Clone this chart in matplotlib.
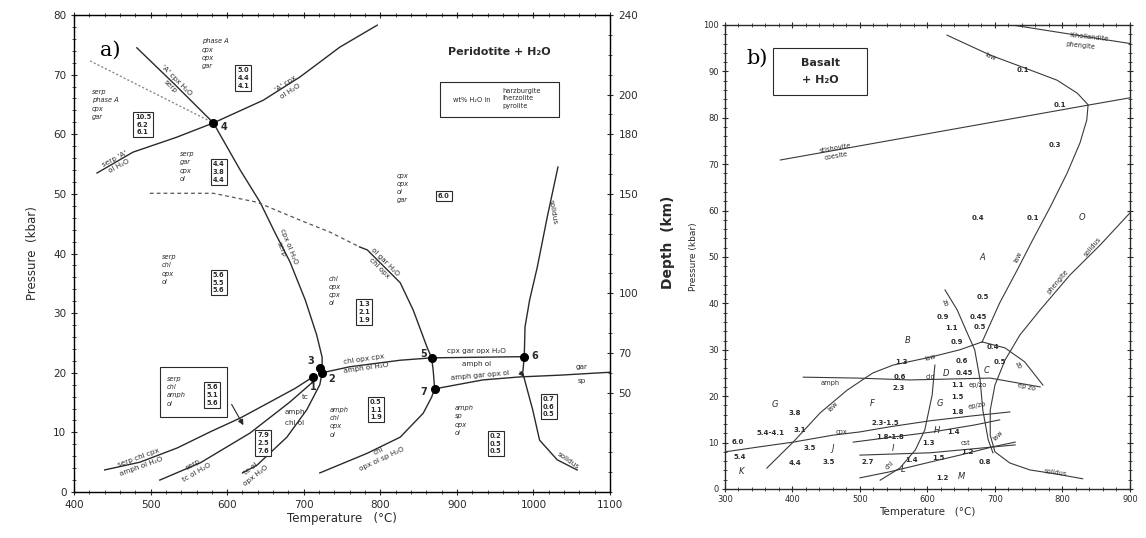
import matplotlib
matplotlib.use('Agg')
import matplotlib.pyplot as plt
from matplotlib.ticker import MultipleLocator
from matplotlib.patches import Rectangle

plt.rcParams['font.family'] = ['DejaVu Sans']
INK = '#2a2a2a'

# ---------------- a) peridotite + H2O  (T in C, P in kbar) ----------------
ant_T = [482, 532, 582, 617, 643, 662, 682, 702, 717, 724, 724, 721, 704, 678, 639, 620]
ant_P = [74.5, 68.3, 61.9, 54.0, 48.6, 43.6, 38.6, 32.2, 26.3, 22.6, 20.0, 18.0, 13.8, 9.2, 4.5, 3.2]
phA_T = [430, 477, 534, 582, 647, 695, 747, 796]
phA_P = [53.5, 57.0, 59.5, 61.9, 65.7, 69.6, 74.6, 78.3]
dot_T = [421, 582]
dot_P = [72.3, 61.9]
dash_T = [499, 582, 639, 695, 734, 773]
dash_P = [50.1, 50.1, 48.6, 45.6, 43.6, 41.1]
chl_T = [773, 783, 826, 843, 861, 867, 869, 871, 867, 856, 826, 783, 721]
chl_P = [41.1, 40.6, 35.1, 30.5, 24.3, 22.5, 20.5, 17.3, 15.9, 13.2, 9.2, 6.5, 3.2]
sol_T = [1032, 1018, 1005, 995, 989, 988, 986, 991, 999, 1008, 1031, 1057]
sol_P = [54.5, 46.1, 37.7, 32.2, 27.7, 22.6, 20.0, 17.6, 13.8, 8.7, 5.4, 3.7]
c1_T = [440, 486, 535, 578, 617, 656, 689, 712]
c1_P = [3.7, 5.0, 7.4, 10.1, 12.4, 15.1, 17.4, 19.3]
c2_T = [512, 565, 630, 682, 715]
c2_P = [2.0, 4.9, 9.9, 15.1, 18.8]
l25_T = [724, 760, 826, 867]
l25_P = [20.0, 21.0, 22.1, 22.5]
l56_T = [867, 988]
l56_P = [22.5, 22.7]
l7_T = [871, 934, 982, 1035, 1102]
l7_P = [17.3, 18.8, 19.3, 19.6, 20.1]
pt_T = [712, 724, 721, 582, 867, 988, 871]
pt_P = [19.3, 20.0, 20.8, 61.9, 22.5, 22.7, 17.3]
pt_names = ['1', '2', '3', '4', '5', '6', '7']
pt_lab_T = [712, 736, 709, 596, 857, 1002, 857]
pt_lab_P = [17.6, 19.0, 21.9, 61.3, 23.2, 22.8, 16.8]
depth_ticks = [50, 70, 100, 150, 180, 200, 240]

# wt% H2O boxes (harzburgite / lherzolite / pyrolite)
box_vals = ['5.0\n4.4\n4.1', '10.5\n6.2\n6.1', '4.4\n3.8\n4.4', '6.0', '5.6\n5.5\n5.6',
            '1.3\n2.1\n1.9', '5.6\n5.1\n5.6', '7.9\n2.5\n7.6', '0.5\n1.1\n1.9',
            '0.2\n0.5\n0.5', '0.7\n0.6\n0.5']
box_T = [621, 490, 589, 883, 589, 779, 580, 647, 794, 951, 1020]
box_P = [69.4, 61.6, 53.7, 49.6, 35.1, 30.2, 16.3, 8.2, 13.8, 8.1, 14.3]

# assemblages
asm_txt = ['phase A\ncpx\nopx\ngar', 'serp\nphase A\ncpx\ngar', 'serp\ngar\ncpx\nol',
           'cpx\nopx\nol\ngar', 'serp\nchl\nopx\nol', 'chl\nopx\ncpx\nol',
           'amph\nchl\nopx\nol', 'amph\nsp\nopx\nol', 'serp\nchl\namph\nol']
asm_T = [567, 423, 538, 822, 515, 732, 734, 897, 521]
asm_P = [73.5, 65.0, 54.6, 51.0, 37.3, 33.7, 11.7, 12.0, 16.9]

# reaction labels
rx_txt = ["'A' cpx H\u2082O\nserp", "'A' cpx\nol H\u2082O", "serp 'A'\nol H\u2082O",
          "cpx ol H\u2082O\nserp", "ol gar H\u2082O\nchl opx", "solidus",
          "chl opx cpx\namph ol H\u2082O", "cpx gar opx H\u2082O", "amph ol",
          "amph gar opx ol", "gar", "sp", "tc", "amph", "chl ol",
          "serp chl cpx\namph ol H\u2082O", "serp\ntc ol H\u2082O", "tc ol\nopx H\u2082O",
          "chl\nopx ol sp H\u2082O", "solidus"]
rx_T = [530, 679, 456, 676, 803, 1025, 780, 926, 926, 930, 1063, 1063, 702, 688, 688,
        486, 558, 634, 800, 1045]
rx_P = [68.5, 67.8, 55.3, 41.0, 38.1, 47.0, 21.6, 23.7, 21.4, 19.6, 20.9, 18.6, 15.9,
        13.4, 11.6, 5.0, 4.0, 3.4, 6.2, 5.2]
rx_rot = [-45, 33, 28, -68, -45, -80, 8, 0, 0, 5, 0, 0, 0, 0, 0, 20, 30, 38, 25, -35]

# ---------------- b) basalt + H2O ----------------
khol_T = [725, 900]
khol_P = [100, 96.0]
stco_T = [382, 841, 900]
stco_P = [70.9, 82.8, 84.3]
law_T = [629, 693, 752, 792, 822, 838, 836, 826, 807, 782, 756, 733, 707, 681]
law_P = [97.8, 93.5, 90.3, 88.1, 85.3, 82.8, 79.5, 74.6, 68.1, 60.8, 53.7, 47.2, 40.1, 31.7]
bsol_T = [900, 856, 811, 767, 737, 715, 700, 693, 693, 700, 722, 752, 792, 830]
bsol_P = [59.5, 52.6, 46.1, 38.6, 33.2, 27.8, 22.4, 17.0, 11.6, 8.0, 5.6, 4.1, 3.2, 2.2]
zo_T = [626, 644, 659, 670, 678, 682, 690, 697]
zo_P = [42.9, 38.6, 33.6, 30.0, 23.5, 17.0, 10.6, 7.8]
epzo_T = [681, 715, 744, 771]
epzo_P = [31.7, 30.4, 27.4, 22.4]
diag_T = [362, 401, 441, 481, 519, 549, 604, 648, 681]
diag_P = [4.5, 10.1, 16.4, 21.3, 25.0, 26.7, 28.4, 30.0, 31.7]
amph_T = [416, 496, 574, 693, 767]
amph_P = [24.1, 23.9, 23.5, 23.9, 22.0]
cpx_T = [300, 352, 401, 460, 500, 544, 604, 663, 722]
cpx_P = [8.0, 9.1, 10.1, 11.6, 12.3, 13.4, 14.7, 15.7, 16.6]
cpx2_T = [490, 549, 608, 670, 707]
cpx2_P = [10.1, 11.2, 12.3, 13.8, 14.9]
low1_T = [500, 544, 604, 648, 697, 730]
low1_P = [2.4, 3.7, 5.8, 7.3, 9.1, 10.1]
low2_T = [500, 604, 730]
low2_P = [7.3, 7.8, 9.5]
chlb_T = [611, 607, 596, 582, 559, 530]
chlb_P = [26.7, 20.3, 12.7, 8.4, 4.5, 1.9]

b_txt = ['0.1', '0.1', '0.3', '0.4', '0.1', '0.5', '0.9', '0.45', '1.1', '0.5', '0.9',
         '0.4', '1.3', '0.6', '0.45', '0.5', '0.6', '2.3', '1.1', '1.5', '1.8',
         '2.3-1.5', '1.8-1.8', '1.4', '1.3', '1.4', '1.5', '1.2', '0.8', '1.2',
         '3.8', '5.4-4.1', '3.1', '6.0', '5.4', '3.5', '4.4', '3.5', '2.7']
b_T = [742, 796, 789, 675, 756, 682, 623, 675, 636, 678, 644,
       697, 562, 651, 655, 707, 559, 557, 644, 644, 644,
       537, 544, 638, 601, 577, 616, 659, 685, 622,
       404, 367, 411, 319, 322, 426, 404, 453, 512]
b_P = [90.3, 82.8, 74.1, 58.4, 58.4, 41.4, 37.1, 37.1, 34.7, 34.9, 31.7,
       30.6, 27.4, 27.6, 24.9, 27.4, 24.1, 21.8, 22.4, 19.8, 16.6,
       14.2, 11.1, 12.3, 9.9, 6.3, 6.7, 8.0, 5.8, 2.4,
       16.4, 12.1, 12.7, 10.1, 6.9, 8.8, 5.6, 5.8, 5.8]
bl_txt = ['O', 'A', 'B', 'D', 'C', 'G', 'H', 'L', 'M', 'G', 'F', 'K', 'J', 'I']
bl_T = [829, 681, 571, 627, 688, 619, 614, 564, 651, 374, 518, 325, 460, 549]
bl_P = [58.6, 49.8, 32.1, 24.9, 25.6, 18.5, 12.7, 4.1, 2.6, 18.1, 18.5, 3.7, 8.8, 8.8]
bm_txt = ['law', 'law', 'phengite', 'solidus', 'zo', 'law', 'zo', 'cld', 'ep/zo', 'ep zo',
          'ep/zo', 'cst', 'law', 'amph', 'law', 'cpx', 'chl', 'solidus']
bm_T = [693, 734, 793, 845, 626, 604, 734, 604, 675, 747, 673, 656, 704, 456, 460, 473, 544, 790]
bm_P = [93.1, 50.0, 44.6, 52.2, 40.1, 28.4, 26.7, 24.1, 22.4, 22.0, 18.1, 9.9, 11.6, 22.8,
        17.7, 12.3, 5.2, 3.6]
bm_rot = [-25, 65, 50, 50, -70, 15, -60, 0, 0, -12, 10, 0, 45, 0, 45, 0, 45, -8]


def curve(ax, T, P, **kw):
    kw.setdefault('color', INK)
    kw.setdefault('lw', 1.0)
    ax.plot(T, P, **kw)


fig = plt.figure(figsize=(11.46, 5.38), dpi=100)

# ======================= panel a =======================
ax = fig.add_axes([0.0646, 0.0855, 0.4677, 0.8866])
ax.set_xlim(400, 1100)
ax.set_ylim(0, 80)
curve(ax, ant_T, ant_P)
curve(ax, phA_T, phA_P)
curve(ax, dot_T, dot_P, color='#8a8a8a', ls=(0, (1.5, 1.5)), lw=1.0)
curve(ax, dash_T, dash_P, ls=(0, (3, 2.5)), lw=0.9, color='#555555')
curve(ax, chl_T, chl_P)
curve(ax, sol_T, sol_P)
curve(ax, c1_T, c1_P)
curve(ax, c2_T, c2_P)
curve(ax, l25_T, l25_P)
curve(ax, l56_T, l56_P)
curve(ax, l7_T, l7_P)
ax.plot(pt_T, pt_P, 'o', color='black', ms=5.5, zorder=5)
for s, t, p in zip(pt_names, pt_lab_T, pt_lab_P):
    ax.text(t, p, s, fontsize=7, fontweight='bold', ha='center', va='center', color=INK)

for s, t, p in zip(box_vals, box_T, box_P):
    ax.text(t, p, s, fontsize=4.8, ha='center', va='center', linespacing=1.35, color=INK,
            fontweight='bold',
            bbox=dict(boxstyle='square,pad=0.3', fc='white', ec=INK, lw=0.8))
for s, t, p in zip(asm_txt, asm_T, asm_P):
    ax.text(t, p, s, fontsize=4.8, ha='left', va='center', linespacing=1.45, color=INK,
            style='italic')
for s, t, p, r in zip(rx_txt, rx_T, rx_P, rx_rot):
    ax.text(t, p, s, fontsize=5.2, ha='center', va='center', rotation=r,
            rotation_mode='anchor', linespacing=1.5, color=INK)

# framed assemblage and legend box
ax.add_patch(Rectangle((512, 12.6), 88, 8.4, fill=False, ec=INK, lw=0.8))
ax.add_patch(Rectangle((878, 62.9), 156, 5.9, fill=False, ec=INK, lw=0.8))
ax.text(920, 65.7, 'wt% H\u2082O in', fontsize=4.8, ha='center', va='center', color=INK)
ax.text(960, 66.0, 'harzburgite\nlherzolite\npyrolite', fontsize=4.8, ha='left',
        va='center', linespacing=1.35, color=INK)
ax.text(955, 73.8, 'Peridotite + H\u2082O', fontsize=8, fontweight='bold', ha='center',
        va='center', color=INK)
ax.text(447, 74.1, 'a)', fontsize=15, family='DejaVu Serif', ha='center', va='center')
ax.annotate('', xy=(623, 10.8), xytext=(604, 15.1),
            arrowprops=dict(arrowstyle='-|>', color=INK, lw=0.8, mutation_scale=8))
ax.annotate('', xy=(990, 19.0), xytext=(980, 20.5),
            arrowprops=dict(arrowstyle='-|>', color=INK, lw=0.8, mutation_scale=7))

ax.xaxis.set_major_locator(MultipleLocator(100))
ax.xaxis.set_minor_locator(MultipleLocator(20))
ax.yaxis.set_major_locator(MultipleLocator(10))
ax.yaxis.set_minor_locator(MultipleLocator(2))
ax.tick_params(which='both', direction='inout', top=True, right=False, labelsize=7.5,
               colors=INK, pad=3)
ax.tick_params(which='major', length=5)
ax.tick_params(which='minor', length=2.5)
ax.set_xlabel('Temperature   (\u00b0C)', fontsize=8.5, color=INK, labelpad=2)
ax.set_ylabel('Pressure  (kbar)', fontsize=8.5, color=INK, labelpad=10)
for sp in ax.spines.values():
    sp.set_color(INK)
    sp.set_linewidth(1.0)

ax2 = ax.twinx()
ax2.set_ylim(0, 240)
ax2.set_yticks(depth_ticks)
ax2.yaxis.set_minor_locator(MultipleLocator(10))
ax2.tick_params(which='both', direction='inout', labelsize=7.5, colors=INK)
ax2.tick_params(which='major', length=5)
ax2.tick_params(which='minor', length=2.5)

# ======================= panel b =======================
bx = fig.add_axes([0.6326, 0.0911, 0.3534, 0.8625])
bx.set_xlim(300, 900)
bx.set_ylim(0, 100)
for T, P in [(khol_T, khol_P), (stco_T, stco_P), (law_T, law_P), (bsol_T, bsol_P),
             (zo_T, zo_P), (epzo_T, epzo_P), (diag_T, diag_P), (amph_T, amph_P),
             (cpx_T, cpx_P), (cpx2_T, cpx2_P), (low1_T, low1_P), (low2_T, low2_P),
             (chlb_T, chlb_P)]:
    curve(bx, T, P, lw=0.8, color='#3a3a3a')

for s, t, p in zip(b_txt, b_T, b_P):
    bx.text(t, p, s, fontsize=5, fontweight='bold', ha='center', va='center', color=INK)
for s, t, p in zip(bl_txt, bl_T, bl_P):
    bx.text(t, p, s, fontsize=6, style='italic', ha='center', va='center', color=INK)
for s, t, p, r in zip(bm_txt, bm_T, bm_P, bm_rot):
    bx.text(t, p, s, fontsize=4.8, ha='center', va='center', rotation=r,
            rotation_mode='anchor', color=INK)
bx.text(840, 97.4, 'K-hollandite', fontsize=4.8, ha='center', va='center', rotation=-6,
        color=INK)
bx.text(827, 95.5, 'phengite', fontsize=4.8, ha='center', va='center', rotation=-6,
        color=INK)
bx.text(464, 72.6, 'stishovite\ncoesite', fontsize=4.8, ha='center', va='center',
        rotation=10, rotation_mode='anchor', linespacing=1.5, color=INK)
bx.add_patch(Rectangle((371, 84.9), 139, 10.1, fill=False, ec=INK, lw=0.8))
bx.text(441, 91.8, 'Basalt', fontsize=8, fontweight='bold', ha='center', va='center',
        color=INK)
bx.text(441, 88.1, '+ H\u2082O', fontsize=8, fontweight='bold', ha='center', va='center',
        color=INK)
fig.text(0.6606, 0.892, 'b)', fontsize=15, family='DejaVu Serif', ha='center', va='center')

bx.xaxis.set_major_locator(MultipleLocator(100))
bx.xaxis.set_minor_locator(MultipleLocator(20))
bx.yaxis.set_major_locator(MultipleLocator(10))
bx.yaxis.set_minor_locator(MultipleLocator(2))
bx.tick_params(which='both', direction='inout', top=True, right=True, labelsize=6,
               colors=INK, pad=2)
bx.tick_params(which='major', length=4.5)
bx.tick_params(which='minor', length=2.5)
bx.set_xlabel('Temperature   (\u00b0C)', fontsize=7.5, color=INK, labelpad=2)
bx.set_ylabel('Pressure (kbar)', fontsize=6.5, color=INK, labelpad=4)
fig.text(0.583, 0.55, 'Depth  (km)', fontsize=10, fontweight='bold', rotation=90,
         ha='center', va='center', color=INK)
for sp in bx.spines.values():
    sp.set_color(INK)
    sp.set_linewidth(1.0)

fig.savefig('out.png', dpi=100)
